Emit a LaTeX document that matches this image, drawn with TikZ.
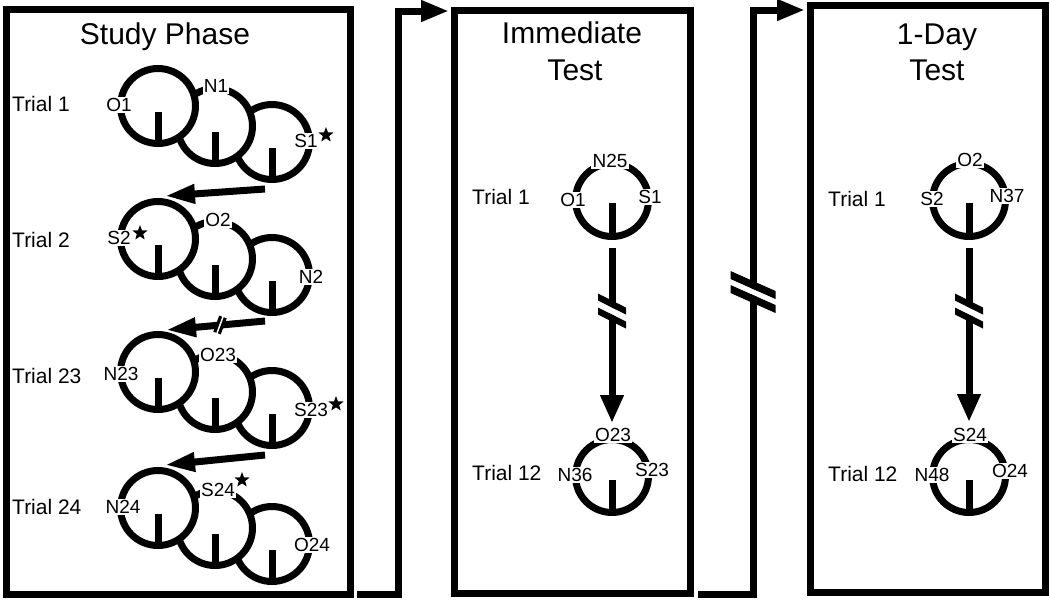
\documentclass[tikz,border=0pt]{standalone}
\usepackage{fontspec}
\setmainfont{Liberation Sans}
\usetikzlibrary{arrows.meta,shapes.geometric,calc}
\newcommand\brkmark[5]{%
 \begin{scope}[shift={(#1)}]
  \fill[white] (-#2,{-#3-#4+#5/2}) -- (#2,{#3-#4+#5/2}) -- (#2,{#3+#4-#5/2}) -- (-#2,{-#3+#4-#5/2}) -- cycle;
  \fill (-#2,{-#3-#4-#5/2}) -- (#2,{#3-#4-#5/2}) -- (#2,{#3-#4+#5/2}) -- (-#2,{-#3-#4+#5/2}) -- cycle;
  \fill (-#2,{-#3+#4-#5/2}) -- (#2,{#3+#4-#5/2}) -- (#2,{#3+#4+#5/2}) -- (-#2,{-#3+#4+#5/2}) -- cycle;
 \end{scope}}
\begin{document}
\begin{tikzpicture}[x=1pt,y=-1pt,
  frame/.style={line width=7pt, line join=miter},
  ring/.style={line width=7pt, fill=white},
  stem/.style={line width=7pt},
  lbl/.style={fill=white, inner sep=1.2pt, font=\fontsize{19}{21}\selectfont},
  trial/.style={anchor=base west, inner sep=0pt, font=\fontsize{21}{24}\selectfont},
  title/.style={anchor=base, inner sep=0pt, font=\fontsize{30}{33}\selectfont},
  starmark/.style={star, star points=5, star point ratio=2.4, fill=black, draw=none, minimum size=16pt, inner sep=0pt},
  sarrow/.style={line width=7pt, -{Triangle[length=30pt,width=18pt]}},
  tarrow/.style={line width=7pt, -{Triangle[length=28pt,width=22pt]}},
  conn/.style={line width=7pt, line join=miter, -{Triangle[length=28pt,width=20pt]}},
]
\useasboundingbox (0,0) rectangle (1050,600);
\fill[white] (0,0) rectangle (1050,600);

% frames
\draw[frame] (6,9) rectangle (350,594);
\draw[frame] (454,10) rectangle (690,593);
\draw[frame] (810,5) rectangle (1045,592);

% connectors between phases
\coordinate (c1a) at (357,594); \coordinate (c1b) at (398,594);
\coordinate (c1c) at (398,11);  \coordinate (c1d) at (449,11);
\draw[conn] (c1a) -- (c1b) -- (c1c) -- (c1d);
\coordinate (c2a) at (698,594); \coordinate (c2b) at (753,594);
\coordinate (c2c) at (753,10);  \coordinate (c2d) at (805,10);
\draw[conn] (c2a) -- (c2b) -- (c2c) -- (c2d);
\brkmark{753,292}{22.5}{10}{7}{8}

% titles
\node[title] (tstudy) at (165,44) {Study Phase};
\node[title] (timm1) at (572,43) {Immediate};
\node[title] (timm2) at (575,80) {Test};
\node[title] (tday1) at (937,44) {1-Day};
\node[title] (tday2) at (937,80) {Test};

% study phase rings
\foreach \r/\y in {1/106,2/239,3/372,4/508}{
  \coordinate (r\r c) at (272,\y+36);
  \coordinate (r\r b) at (215,\y+20);
  \coordinate (r\r a) at (158,\y);
  \draw[ring] (r\r c) circle[radius=37.5];
  \draw[stem] ($(r\r c)+(0,6)$) -- ($(r\r c)+(0,38)$);
  \draw[ring] (r\r b) circle[radius=37.5];
  \draw[stem] ($(r\r b)+(0,6)$) -- ($(r\r b)+(0,38)$);
  \draw[ring] (r\r a) circle[radius=37.5];
  \draw[stem] ($(r\r a)+(0,6)$) -- ($(r\r a)+(0,38)$);
}

% study phase arrows
\coordinate (o1) at (265,189); \coordinate (i2) at (165,196);
\draw[sarrow] (o1) -- (i2);
\coordinate (o2) at (265,321); \coordinate (i3) at (166,330);
\draw[sarrow] (o2) -- (i3);
\draw[line width=8pt] (217,333) -- (223,317);
\draw[white, line width=1.5pt] (216.5,334.5) -- (223.5,315.5);
\coordinate (o3) at (265,455); \coordinate (i4) at (165,465);
\draw[sarrow] (o3) -- (i4);

% study labels
\node[trial] (st1) at (12,111) {Trial 1};
\node[trial] (st2) at (12,247) {Trial 2};
\node[trial] (st3) at (12,383) {Trial 23};
\node[trial] (st4) at (12,514) {Trial 24};

\node[lbl] (l1a) at (119,105) {O1};
\node[lbl] (l1b) at (216,86) {N1};
\node[lbl] (l1c) at (306,141) {S1};
\node[starmark] (s1) at (326,135) {};

\node[lbl] (l2a) at (119,238) {S2};
\node[starmark] (s2) at (140,233) {};
\node[lbl] (l2b) at (218,220) {O2};
\node[lbl] (l2c) at (311,277) {N2};

\node[lbl] (l3a) at (121,374) {N23};
\node[lbl] (l3b) at (218,355) {O23};
\node[lbl] (l3c) at (311,410) {S23};
\node[starmark] (s3) at (336,404) {};

\node[lbl] (l4a) at (123,507) {N24};
\node[lbl] (l4b) at (218,490) {S24};
\node[starmark] (s4) at (242,480) {};
\node[lbl] (l4c) at (312,545) {O24};

% immediate test
\coordinate (m1) at (612,200); \coordinate (m2) at (612,476);
\draw[ring] (m1) circle[radius=36.5];
\draw[stem] ($(m1)+(0,3)$) -- ($(m1)+(0,37)$);
\draw[ring] (m2) circle[radius=36.5];
\draw[stem] ($(m2)+(0,4)$) -- ($(m2)+(0,37)$);
\coordinate (m1s) at (612,248); \coordinate (m2e) at (612,423);
\draw[tarrow] (m1s) -- (m2e);
\brkmark{612,311}{14}{7}{7}{7}
\node[trial] (mt1) at (472,204) {Trial 1};
\node[trial] (mt2) at (472,480) {Trial 12};
\node[lbl] (m1n) at (610,161) {N25};
\node[lbl] (m1o) at (573,200) {O1};
\node[lbl] (m1s1) at (650,197) {S1};
\node[lbl] (m2o) at (613,435) {O23};
\node[lbl] (m2n) at (575,475) {N36};
\node[lbl] (m2s) at (652,470) {S23};

% 1-day test
\coordinate (d1) at (969,200); \coordinate (d2) at (969,476);
\draw[ring] (d1) circle[radius=36.5];
\draw[stem] ($(d1)+(0,3)$) -- ($(d1)+(0,37)$);
\draw[ring] (d2) circle[radius=36.5];
\draw[stem] ($(d2)+(0,4)$) -- ($(d2)+(0,37)$);
\coordinate (d1s) at (969,248); \coordinate (d2e) at (969,422);
\draw[tarrow] (d1s) -- (d2e);
\brkmark{969,311}{14}{7}{7}{7}
\node[trial] (dt1) at (828,206) {Trial 1};
\node[trial] (dt2) at (828,481) {Trial 12};
\node[lbl] (d1o) at (970,160) {O2};
\node[lbl] (d1s2) at (932,199) {S2};
\node[lbl] (d1n) at (1007,196) {N37};
\node[lbl] (d2s) at (970,435) {S24};
\node[lbl] (d2n) at (932,475) {N48};
\node[lbl] (d2o) at (1010,471) {O24};
\end{tikzpicture}
\end{document}
